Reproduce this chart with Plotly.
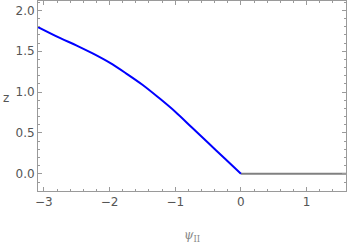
import plotly.graph_objects as go

# data
psi_neg = [-3.1, -2.75, -2.5, -2.25, -2.0, -1.75, -1.5, -1.25, -1.0, -0.75, -0.5, -0.25, 0.0]
z_neg = [1.80, 1.66, 1.57, 1.47, 1.36, 1.23, 1.09, 0.93, 0.76, 0.57, 0.38, 0.19, 0.0]
psi_pos = [0.0, 1.6]
z_pos = [0.0, 0.0]

x_ticks = [-3, -2, -1, 0, 1]
y_ticks = [0.0, 0.5, 1.0, 1.5, 2.0]

fig = go.Figure()
fig.add_trace(go.Scatter(x=psi_pos, y=z_pos, mode="lines",
                         line=dict(color="#808080", width=2), showlegend=False))
fig.add_trace(go.Scatter(x=psi_neg, y=z_neg, mode="lines",
                         line=dict(color="#0000ff", width=2, shape="spline"), showlegend=False))

axis_common = dict(
    showline=True, linecolor="#9a9a9a", linewidth=1, mirror="ticks",
    ticks="inside", ticklen=4, tickcolor="#9a9a9a", tickwidth=1,
    showgrid=False, zeroline=False, automargin=False,
    tickfont=dict(family="DejaVu Sans", size=12, color="#555555"),
)

fig.update_layout(
    width=347, height=247,
    margin=dict(l=38, r=1, t=1, b=56),
    paper_bgcolor="white", plot_bgcolor="white",
    xaxis=dict(range=[-3.09, 1.6], tickvals=x_ticks,
               ticktext=["\u22123", "\u22122", "\u22121", "0", "1"],
               minor=dict(dtick=0.2, ticks="inside", ticklen=2, tickcolor="#9a9a9a"),
               **axis_common),
    yaxis=dict(range=[-0.21, 2.115], tickvals=y_ticks,
               ticktext=["0.0", "0.5", "1.0", "1.5", "2.0"],
               minor=dict(dtick=0.1, ticks="inside", ticklen=2, tickcolor="#9a9a9a"),
               **axis_common),
    annotations=[
        dict(text="z", xref="paper", yref="paper", x=-0.104, y=0.49,
             xanchor="center", yanchor="middle", showarrow=False,
             font=dict(family="DejaVu Sans", size=12, color="#555555")),
        dict(text="<i>\u03c8</i><sub>II</sub>", xref="paper", yref="paper", x=0.5, y=-0.185,
             xanchor="center", yanchor="top", showarrow=False,
             font=dict(family="DejaVu Serif", size=12, color="#888888")),
    ],
)

fig.write_html("out.html", config={"displayModeBar": False},
               post_script="document.body.style.margin='0';")
